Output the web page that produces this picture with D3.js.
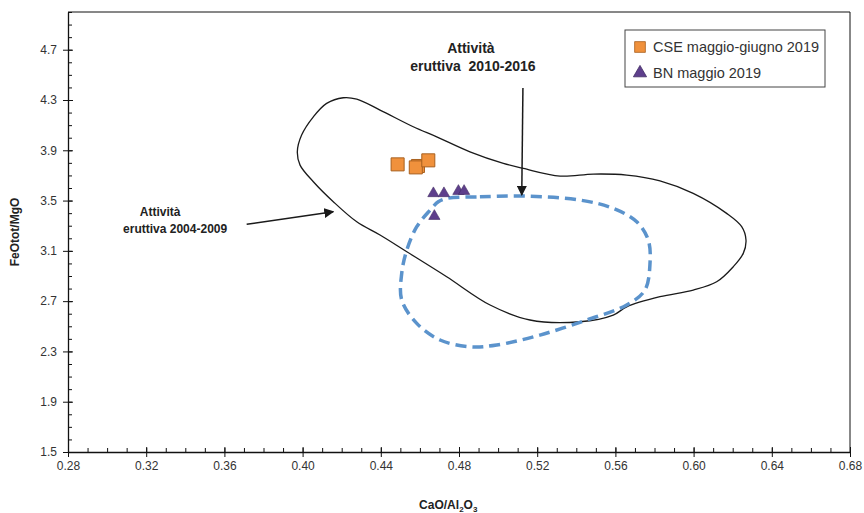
<!DOCTYPE html>
<html lang="it">
<head>
<meta charset="UTF-8">
<title>FeOtot/MgO vs CaO/Al2O3</title>
<style>
  body { margin: 0; background: #fff; }
  svg { display: block; font-family: "Liberation Sans", Arial, sans-serif; }
  .axis text { font-size: 12px; fill: #333; }
  .axis path, .axis line { stroke: #111; }
  .axis-title { font-size: 12px; font-weight: bold; fill: #222; }
  .note { font-size: 12px; font-weight: bold; fill: #222; white-space: pre; }
  .note.big { font-size: 14px; }
  .legend text { font-size: 14.5px; fill: #333; }
</style>
</head>
<body>
<div id="chart"></div>
<script src="https://d3js.org/d3.v7.min.js"></script>
<script>
// tick labels
const xTicks = [0.28, 0.32, 0.36, 0.40, 0.44, 0.48, 0.52, 0.56, 0.60, 0.64, 0.68];
const yTicks = [1.5, 1.9, 2.3, 2.7, 3.1, 3.5, 3.9, 4.3, 4.7];

// CSE maggio-giugno 2019 (squares)
const cseX = [0.4486, 0.4590, 0.4579, 0.4643];
const cseY = [3.788, 3.775, 3.764, 3.820];

// BN maggio 2019 (triangles)
const bnX = [0.4669, 0.4723, 0.4797, 0.4826, 0.4674];
const bnY = [3.557, 3.557, 3.575, 3.575, 3.376];

// field of "Attività eruttiva 2004-2009" (solid line)
const field0409X = [0.4208, 0.4277, 0.4396, 0.4566, 0.4686, 0.4856, 0.5027, 0.5129, 0.5317, 0.5487,
  0.5658, 0.5828, 0.5998, 0.6169, 0.6246, 0.6268, 0.6254, 0.6203, 0.6118, 0.5998,
  0.5828, 0.5658, 0.5589, 0.5419, 0.5163, 0.4959, 0.4737, 0.4533, 0.4396, 0.4277,
  0.4157, 0.4055, 0.3987, 0.3973, 0.3995, 0.4055, 0.4123];
const field0409Y = [4.318, 4.307, 4.220, 4.087, 4.007, 3.888, 3.796, 3.756, 3.695, 3.711,
  3.703, 3.657, 3.557, 3.398, 3.292, 3.186, 3.080, 2.974, 2.854, 2.788,
  2.735, 2.655, 2.589, 2.536, 2.550, 2.669, 2.894, 3.093, 3.226, 3.331,
  3.491, 3.650, 3.782, 3.888, 4.021, 4.166, 4.273];

// field of "Attività eruttiva 2010-2016" (dashed line)
const field1016X = [0.4737, 0.4907, 0.5129, 0.5419, 0.5589, 0.5709, 0.5768, 0.5777, 0.5751, 0.5658,
  0.5453, 0.5214, 0.4993, 0.4856, 0.4703, 0.4584, 0.4507, 0.4507, 0.4533, 0.4584,
  0.4652, 0.4694];
const field1016Y = [3.517, 3.530, 3.536, 3.504, 3.438, 3.331, 3.186, 3.001, 2.788, 2.669,
  2.550, 2.430, 2.351, 2.337, 2.391, 2.523, 2.709, 2.921, 3.106, 3.292,
  3.424, 3.490];

const xDomain = [0.28, 0.68];
const yDomain = [1.5, 5.0];

function drawChart() {
  const W = 864, H = 513;
  const margin = { top: 12, right: 14, bottom: 61, left: 68 };
  const width = W - margin.left - margin.right;
  const height = H - margin.top - margin.bottom;

  const svg = d3.select("#chart").append("svg")
    .attr("width", W).attr("height", H);

  const defs = svg.append("defs");
  defs.append("marker")
    .attr("id", "arrow")
    .attr("viewBox", "0 0 10 10")
    .attr("refX", 9).attr("refY", 5)
    .attr("markerWidth", 10).attr("markerHeight", 10)
    .attr("markerUnits", "userSpaceOnUse")
    .attr("orient", "auto")
    .append("path")
    .attr("d", "M0,0 L10,5 L0,10 Z")
    .attr("fill", "#1a1a1a");

  const g = svg.append("g")
    .attr("transform", `translate(${margin.left},${margin.top})`);

  const x = d3.scaleLinear().domain(xDomain).range([0, width]);
  const y = d3.scaleLinear().domain(yDomain).range([height, 0]);

  // frame (top and right)
  g.append("path")
    .attr("d", `M0,0 H${width} V${height}`)
    .attr("fill", "none")
    .attr("stroke", "#111")
    .attr("stroke-width", 1);

  // minor ticks
  const xMinor = d3.range(0, 41).map(i => xDomain[0] + i * 0.01);
  const yMinor = d3.range(0, 36).map(i => yDomain[0] + i * 0.1);
  g.append("g")
    .attr("class", "axis")
    .attr("transform", `translate(0,${height})`)
    .call(d3.axisBottom(x).tickValues(xMinor).tickSize(-4).tickFormat(""))
    .call(a => a.select(".domain").remove());
  g.append("g")
    .attr("class", "axis")
    .call(d3.axisLeft(y).tickValues(yMinor).tickSize(-4).tickFormat(""))
    .call(a => a.select(".domain").remove());

  // major axes
  g.append("g")
    .attr("class", "axis")
    .attr("transform", `translate(0,${height})`)
    .call(d3.axisBottom(x).tickValues(xTicks).tickSizeInner(5).tickSizeOuter(0)
      .tickPadding(4).tickFormat(d3.format(".2f")))
    .call(a => a.selectAll(".tick line").attr("y1", -5))
    .call(a => a.select(".domain").attr("stroke-width", 1.3));
  g.append("g")
    .attr("class", "axis")
    .call(d3.axisLeft(y).tickValues(yTicks).tickSizeInner(5).tickSizeOuter(0)
      .tickPadding(6).tickFormat(d3.format(".1f")))
    .call(a => a.selectAll(".tick line").attr("x1", 5))
    .call(a => a.select(".domain").attr("stroke-width", 1.3));

  // axis titles
  g.append("text")
    .attr("class", "axis-title")
    .attr("transform", `translate(${-margin.left + 19},${height / 2}) rotate(-90)`)
    .attr("text-anchor", "middle")
    .text("FeOtot/MgO");

  const xt = g.append("text")
    .attr("class", "axis-title")
    .attr("x", x(0.4745))
    .attr("y", height + 57)
    .attr("text-anchor", "middle");
  xt.append("tspan").text("CaO/Al");
  xt.append("tspan").attr("font-size", "8px").attr("dy", 3).text("2");
  xt.append("tspan").attr("dy", -3).text("O");
  xt.append("tspan").attr("font-size", "8px").attr("dy", 3).text("3");

  // fields
  const toPts = (xs, ys) => xs.map((v, i) => [v, ys[i]]);
  const line = d3.line()
    .x(d => x(d[0])).y(d => y(d[1]))
    .curve(d3.curveCatmullRomClosed.alpha(0.5));

  g.append("path")
    .attr("d", line(toPts(field0409X, field0409Y)))
    .attr("fill", "none")
    .attr("stroke", "#1a1a1a")
    .attr("stroke-width", 1.3);

  g.append("path")
    .attr("d", line(toPts(field1016X, field1016Y)))
    .attr("fill", "none")
    .attr("stroke", "#5b93cc")
    .attr("stroke-width", 3.5)
    .attr("stroke-dasharray", "11,6");

  // annotations
  const notes = [
    { lines: ["Attività", "eruttiva 2004-2009"], at: [[0.3271, 3.38], [0.3348, 3.24]],
      arrow: [[0.3714, 3.311], [0.4157, 3.411]], big: false },
    { lines: ["Attività", "eruttiva  2010-2016"], at: [[0.4861, 4.672], [0.4871, 4.527]],
      arrow: [[0.5127, 4.395], [0.5121, 3.544]], big: true }
  ];
  notes.forEach(n => {
    n.lines.forEach((t, i) => {
      g.append("text")
        .attr("class", n.big ? "note big" : "note")
        .attr("x", x(n.at[i][0]))
        .attr("y", y(n.at[i][1]))
        .attr("text-anchor", "middle")
        .text(t);
    });
    g.append("line")
      .attr("x1", x(n.arrow[0][0])).attr("y1", y(n.arrow[0][1]))
      .attr("x2", x(n.arrow[1][0])).attr("y2", y(n.arrow[1][1]))
      .attr("stroke", "#1a1a1a")
      .attr("stroke-width", 1.5)
      .attr("marker-end", "url(#arrow)");
  });

  // points
  const square = d3.symbol().type(d3.symbolSquare).size(170);
  const tri = d3.symbol().type(d3.symbolTriangle).size(55);

  g.selectAll(".cse")
    .data(toPts(cseX, cseY))
    .enter().append("path")
    .attr("class", "cse")
    .attr("transform", d => `translate(${x(d[0])},${y(d[1])})`)
    .attr("d", square)
    .attr("fill", "#f0913c")
    .attr("stroke", "#a8601f")
    .attr("stroke-width", 1);

  g.selectAll(".bn")
    .data(toPts(bnX, bnY))
    .enter().append("path")
    .attr("class", "bn")
    .attr("transform", d => `translate(${x(d[0])},${y(d[1])})`)
    .attr("d", tri)
    .attr("fill", "#5e3f8c")
    .attr("stroke", "#3f2a62")
    .attr("stroke-width", 0.6);

  // legend
  const lg = svg.append("g").attr("class", "legend")
    .attr("transform", "translate(625,30)");
  lg.append("rect")
    .attr("width", 200).attr("height", 57)
    .attr("fill", "#fff")
    .attr("stroke", "#444")
    .attr("stroke-width", 1);
  const items = [
    { label: "CSE maggio-giugno 2019", sym: d3.symbol().type(d3.symbolSquare).size(115), fill: "#f0913c", stroke: "#a8601f" },
    { label: "BN maggio 2019", sym: d3.symbol().type(d3.symbolTriangle).size(75), fill: "#5e3f8c", stroke: "#3f2a62" }
  ];
  items.forEach((it, i) => {
    const row = lg.append("g").attr("transform", `translate(15,${17 + i * 26})`);
    row.append("path").attr("d", it.sym).attr("fill", it.fill)
      .attr("stroke", it.stroke).attr("stroke-width", 0.8);
    row.append("text").attr("x", 13).attr("y", 5).text(it.label);
  });
}

drawChart();
</script>
</body>
</html>
